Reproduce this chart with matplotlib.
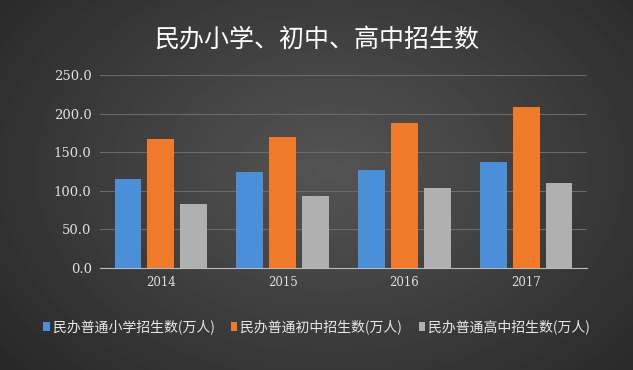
import numpy as np
import matplotlib
matplotlib.use('Agg')
import matplotlib.pyplot as plt

plt.rcParams['font.family'] = ['Noto Sans CJK SC', 'DejaVu Sans']

years = ['2014', '2015', '2016', '2017']
primary = [115.0, 124.0, 127.0, 137.0]
junior = [167.0, 170.0, 188.0, 208.0]
senior = [83.0, 93.0, 103.0, 110.5]
series_names = ['民办普通小学招生数(万人)', '民办普通初中招生数(万人)', '民办普通高中招生数(万人)']
title = '民办小学、初中、高中招生数'

fig = plt.figure(figsize=(6.33, 3.70), dpi=100)

# dark radial background
bg = fig.add_axes([0, 0, 1, 1])
yy, xx = np.mgrid[0:370, 0:633]
r = np.sqrt(((xx - 330) / 420.0) ** 2 + ((yy - 170) / 300.0) ** 2)
shade = np.clip(0.33 - 0.17 * r, 0.15, 0.35)
bg.imshow(shade, cmap='gray', vmin=0, vmax=1, aspect='auto', extent=[0, 1, 0, 1])
bg.axis('off')

ax = fig.add_axes([100 / 633, 1 - 268 / 370, 487 / 633, (268 - 75) / 370])
ax.set_facecolor('none')
x = np.arange(len(years))
w = 0.22
off = 0.27
ax.bar(x - off, primary, w, color='#4a8fd8', label=series_names[0], zorder=3)
ax.bar(x, junior, w, color='#ef7a2a', label=series_names[1], zorder=3)
ax.bar(x + off, senior, w, color='#b0b0b0', label=series_names[2], zorder=3)

ax.set_xlim(-0.5, 3.5)
ax.set_ylim(0, 250)
ax.set_yticks(np.arange(0, 251, 50))
ax.set_yticklabels(['%.1f' % v for v in np.arange(0, 251, 50)], family='DejaVu Serif',
                   fontsize=9.5, color='#e0e0e0')
ax.set_xticks(x)
ax.set_xticklabels(years, family='DejaVu Serif', fontsize=8.5, color='#e0e0e0')
ax.tick_params(length=0, pad=6)
ax.grid(axis='y', color='#6a6a6a', linewidth=0.8, zorder=0)
for s in ['top', 'right', 'left']:
    ax.spines[s].set_visible(False)
ax.spines['bottom'].set_color('#bbbbbb')

fig.text(0.5, 1 - 40 / 370, title, ha='center', va='center', fontsize=18, color='white')

fig.legend(loc='center', bbox_to_anchor=(0.5, 1 - 327 / 370), ncol=3, frameon=False,
           fontsize=10, labelcolor='#e8e8e8', handlelength=0.45, handleheight=0.7,
           handletextpad=0.2, columnspacing=1.2)

fig.savefig('out.png', dpi=100)
